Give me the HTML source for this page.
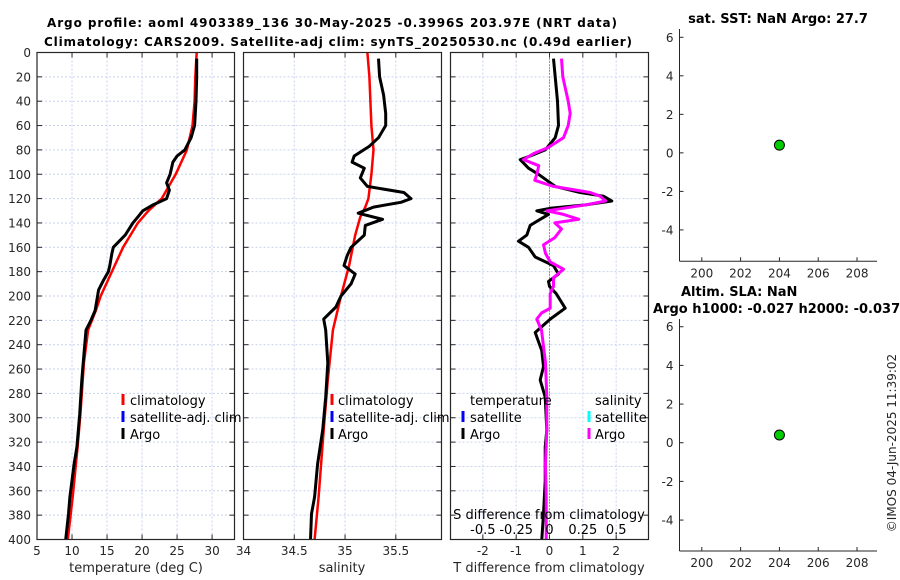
<!DOCTYPE html>
<html><head><meta charset="utf-8"><style>
html,body{margin:0;padding:0;background:#fff;}
svg{display:block;font-family:"DejaVu Sans","Liberation Sans",sans-serif;}
.tk{font-size:12px;fill:#262626;}
.ttl{font-size:12px;font-weight:bold;fill:#000;}
.ttl2{font-size:13px;font-weight:bold;fill:#000;}
.lg{font-size:13px;fill:#000;}
</style></head><body>
<svg id="fig" width="900" height="580" viewBox="0 0 900 580">
<text class="ttl" x="332" y="27" text-anchor="middle" textLength="570">Argo profile: aoml 4903389_136 30-May-2025 -0.3996S 203.97E (NRT data)</text>
<text class="ttl" x="338" y="46" text-anchor="middle" textLength="588">Climatology: CARS2009. Satellite-adj clim: synTS_20250530.nc (0.49d earlier)</text>
</svg>
<script>
// ---- data ----
const tArgoDepth=[5,20,40,60,70,80,85,90,100,107,113,120,125,130,135,140,150,160,165,175,180,187,195,212,220,228,255,269,297,324,338,365,379,400];
const tArgo=[27.8,27.8,27.7,27.5,27.0,26.1,25.0,24.4,24.0,23.5,23.9,23.5,21.6,20.1,19.4,18.7,17.6,15.9,15.7,15.4,15.2,14.5,13.8,13.3,12.7,12.0,11.6,11.4,11.1,10.7,10.3,9.7,9.5,9.1];
const tClimDepth=[0,20,40,60,80,100,120,130,140,160,180,200,212,228,255,297,324,365,400];
const tClim=[27.8,27.6,27.5,27.2,26.4,24.8,22.8,20.9,19.4,17.3,15.7,14.1,13.4,12.3,11.7,11.2,10.8,10.1,9.4];
const sArgoDepth=[5,20,35,50,60,70,77,85,90,95,103,110,115,120,123,127,132,137,142,150,160,167,175,182,190,200,209,219,228,255,283,310,338,365,379,400];
const sArgo=[35.33,35.34,35.38,35.40,35.40,35.33,35.24,35.09,35.07,35.19,35.15,35.22,35.58,35.65,35.55,35.28,35.13,35.37,35.20,35.19,35.06,35.02,34.99,35.10,35.06,34.96,34.91,34.79,34.81,34.83,34.81,34.78,34.73,34.70,34.67,34.66];
const sClimDepth=[0,20,40,60,80,100,120,127,135,150,175,200,228,269,310,365,400];
const sClim=[35.22,35.24,35.25,35.26,35.28,35.26,35.23,35.20,35.15,35.10,35.04,34.96,34.88,34.83,34.79,34.74,34.70];
const dTDepth=[5,20,40,60,70,75,80,85,88,95,100,105,110,115,118,122,125,128,130,133,137,142,150,155,160,168,175,182,188,192,198,210,219,230,245,258,269,283,310,324,352,379,400];
const dT=[0.12,0.17,0.24,0.27,0.17,0.02,-0.13,-0.58,-0.88,-0.63,-0.33,-0.08,0.17,0.92,1.62,1.87,1.12,0.02,-0.38,-0.03,-0.28,-0.58,-0.68,-0.93,-0.63,-0.43,0.12,0.27,-0.03,0.0,0.2,0.47,0.02,-0.43,-0.23,-0.18,-0.28,-0.13,-0.08,-0.13,-0.13,-0.18,-0.23];
const dSDepth=[5,20,40,50,60,70,78,83,88,93,100,105,110,115,118,122,125,130,133,137,140,145,152,158,165,172,178,185,192,198,210,214,219,228,255,283,310,338,365,400];
const dS=[0.09,0.1,0.14,0.155,0.14,0.105,-0.01,-0.12,-0.195,-0.08,-0.095,-0.11,0.03,0.305,0.38,0.42,0.28,-0.02,0.105,0.22,0.04,0.09,0.04,-0.045,-0.03,0.005,0.105,0.03,0.03,0.005,0.005,-0.06,-0.095,-0.06,-0.03,-0.02,-0.02,-0.03,-0.025,-0.025];
const depthTicks=[0,20,40,60,80,100,120,140,160,180,200,220,240,260,280,300,320,340,360,380,400];
const tTicks=[5,10,15,20,25,30];
const sTicks=[34,34.5,35,35.5];
const dTTicks=[-2,-1,0,1,2];
const dSTicks=[-0.5,-0.25,0,0.25,0.5];
const sstX=[204], sstY=[0.4];
const slaX=[204], slaY=[0.4];
const rxTicks=[200,202,204,206,208];
const ryTicks=[-4,-2,0,2,4,6];

// ---- helpers ----
const NS='http://www.w3.org/2000/svg';
const svg=document.getElementById('fig');
function mk(tag,attrs,parent){const e=document.createElementNS(NS,tag);for(const k in attrs)e.setAttribute(k,attrs[k]);(parent||svg).appendChild(e);return e;}
const Y0=52.5,Y1=539.5;
const yD=d=>Y0+(d/400)*(Y1-Y0);
function lin(d0,d1,p0,p1){return v=>p0+(v-d0)/(d1-d0)*(p1-p0);}
const P=[{x0:37,x1:234.5},{x0:243.5,x1:441.5},{x0:450.5,x1:648.5}];
const xT=lin(5,33.2,P[0].x0,P[0].x1);
const xS=lin(34,35.95,P[1].x0,P[1].x1);
const xDT=lin(-2.97,2.97,P[2].x0,P[2].x1);
const xDS=v=>xDT(v*4);

function panelFrame(p,xs,ticks,name){
  const g=mk('g',{});
  
  
  mk('rect',{x:p.x0,y:Y0,width:p.x1-p.x0,height:Y1-Y0,fill:'#fff'},g);
  depthTicks.forEach(d=>{
    const l=mk('line',{x1:p.x0,x2:p.x1,y1:yD(d),y2:yD(d),stroke:'#c8d2ee','stroke-width':1,'stroke-dasharray':'2,2'},g);
    
    
    mk('line',{x1:p.x0,x2:p.x0+5,y1:yD(d),y2:yD(d),stroke:'#262626'},g);
    mk('line',{x1:p.x1-5,x2:p.x1,y1:yD(d),y2:yD(d),stroke:'#262626'},g);
  });
  ticks.forEach(v=>{
    const x=xs(v);
    const l=mk('line',{x1:x,x2:x,y1:Y0,y2:Y1,stroke:'#c8d2ee','stroke-width':1,'stroke-dasharray':'2,2'},g);
    
    
    mk('line',{x1:x,x2:x,y1:Y0,y2:Y0+5,stroke:'#262626'},g);
    mk('line',{x1:x,x2:x,y1:Y1-5,y2:Y1,stroke:'#262626'},g);
  });
  return g;
}
function frameBox(p){mk('rect',{x:p.x0,y:Y0,width:p.x1-p.x0,height:Y1-Y0,fill:'none',stroke:'#262626','stroke-width':1.2});}
function line(xs,xArr,dArr,color,w,name){
  const pts=xArr.map((v,i)=>xs(v).toFixed(1)+','+yD(dArr[i]).toFixed(1)).join(' ');
  const e=mk('polyline',{points:pts,fill:'none',stroke:color,'stroke-width':w,'stroke-linejoin':'round'});
  
  
  return e;
}
function txt(x,y,s,cls,anchor,name){const e=mk('text',{x:x,y:y,class:cls,'text-anchor':anchor||'start'});e.textContent=s;return e;}

// Panel 1 temperature
panelFrame(P[0],xT,tTicks.filter(v=>v>5),'temperature-panel');
line(xT,tClim,tClimDepth,'#ff0000',2.5,'temperature-climatology-line');
line(xT,tArgo,tArgoDepth,'#000000',3,'temperature-argo-line');
frameBox(P[0]);
depthTicks.forEach(d=>txt(31,yD(d)+4.5,String(d),'tk','end','depth-tick-label'));
tTicks.forEach(v=>txt(xT(v),555,String(v),'tk','middle','temperature-tick-label'));
txt(136,572,'temperature (deg C)','tk','middle','temperature-axis-title').setAttribute('style','font-size:13px');

// Panel 2 salinity
panelFrame(P[1],xS,sTicks.filter(v=>v>34),'salinity-panel');
line(xS,sClim,sClimDepth,'#ff0000',2.5,'salinity-climatology-line');
line(xS,sArgo,sArgoDepth,'#000000',3,'salinity-argo-line');
frameBox(P[1]);
sTicks.forEach(v=>txt(xS(v),555,String(v),'tk','middle','salinity-tick-label'));
txt(342,572,'salinity','tk','middle','salinity-axis-title').setAttribute('style','font-size:13px');

// Panel 3 differences
panelFrame(P[2],xDT,dTTicks,'difference-panel');
const z=mk('line',{x1:xDT(0),x2:xDT(0),y1:Y0,y2:Y1,stroke:'#3a5a2a','stroke-width':1,'stroke-dasharray':'1,2'});


line(xDT,dT,dTDepth,'#000000',3,'temperature-difference-argo-line');
line(xDS,dS,dSDepth,'#ff00ff',3,'salinity-difference-argo-line');
frameBox(P[2]);
dTTicks.forEach(v=>txt(xDT(v),555,String(v),'tk','middle','t-difference-tick-label'));
txt(549,572,'T difference from climatology','tk','middle','t-difference-axis-title').setAttribute('style','font-size:13px');
txt(549,519,'S difference from climatology','lg','middle','s-difference-axis-title');
dSTicks.forEach(v=>txt(xDS(v),534,String(v),'lg','middle','s-difference-tick-label'));

// legends
function legendEntry(mx,tx,y,color,label,name){
  const g=mk('g',{});
  
  
  if(color) mk('rect',{x:mx-1.5,y:y-6,width:3,height:11,fill:color},g);
  const t=mk('text',{x:tx,y:y+5,class:'lg'},g);t.textContent=label;
}
[[123,130,'climatology-legend'],[332,338,'salinity-legend']].forEach(([mx,tx,n])=>{
  legendEntry(mx,tx,400,'#ff0000','climatology',n+'-climatology');
  legendEntry(mx,tx,417,'#0000ff','satellite-adj. clim',n+'-satellite');
  legendEntry(mx,tx,434,'#000000','Argo',n+'-argo');
});
legendEntry(0,470,400,null,'temperature','diff-legend-temperature-header');
legendEntry(463,470,417,'#0000ff','satellite','diff-legend-temperature-satellite');
legendEntry(463,470,434,'#000000','Argo','diff-legend-temperature-argo');
legendEntry(0,595,400,null,'salinity','diff-legend-salinity-header');
legendEntry(589,595,417,'#00ffff','satellite','diff-legend-salinity-satellite');
legendEntry(589,595,434,'#ff00ff','Argo','diff-legend-salinity-argo');

// right scatter panels
function scatterPanel(top,bottom,yTop,yBot,xs,ys,name){
  const X0=679.5,X1=877;
  const sx=lin(198.85,209.03,X0,X1), sy=lin(yBot,yTop,bottom,top);
  const g=mk('g',{});
  
  
  mk('line',{x1:X0,x2:X0,y1:top,y2:bottom,stroke:'#262626'},g);
  mk('line',{x1:X0,x2:X1,y1:bottom,y2:bottom,stroke:'#262626'},g);
  ryTicks.forEach(v=>{mk('line',{x1:X0,x2:X0+4,y1:sy(v),y2:sy(v),stroke:'#262626'},g);
    const t=mk('text',{x:X0-6,y:sy(v)+4.5,class:'tk','text-anchor':'end'},g);t.textContent=String(v);});
  rxTicks.forEach(v=>{mk('line',{x1:sx(v),x2:sx(v),y1:bottom,y2:bottom-4,stroke:'#262626'},g);
    const t=mk('text',{x:sx(v),y:bottom+16,class:'tk','text-anchor':'middle'},g);t.textContent=String(v);});
  xs.forEach((v,i)=>{const c=mk('circle',{cx:sx(v),cy:sy(ys[i]),r:5,fill:'#00cc00',stroke:'#000','stroke-width':1},g);
    
    });
}
scatterPanel(29,261.3,6.43,-5.63,sstX,sstY,'sst-panel');
scatterPanel(319,551,6.4,-5.6,slaX,slaY,'sla-panel');
txt(778,23,'sat. SST: NaN Argo: 27.7','ttl2','middle','sst-panel-title');
txt(681,296,'Altim. SLA: NaN','ttl2','start','sla-panel-title-1');
txt(653,313,'Argo h1000: -0.027 h2000: -0.037','ttl2','start','sla-panel-title-2');
const cr=txt(0,0,'©IMOS 04-Jun-2025 11:39:02','tk','middle','imos-credit');
cr.setAttribute('transform','translate(896,443) rotate(-90)');
</script>
</body></html>
